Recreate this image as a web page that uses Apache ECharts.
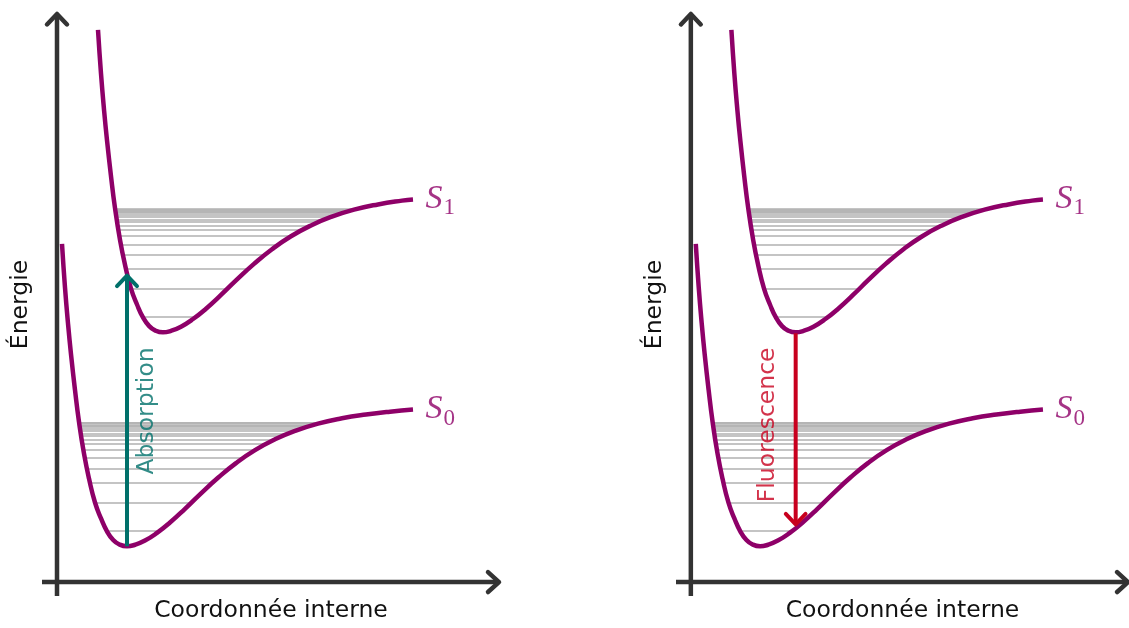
<!DOCTYPE html>
<html><head><meta charset="utf-8">
<script src="https://cdn.jsdelivr.net/npm/echarts@6/dist/echarts.min.js"></script>
<style>html,body{margin:0;padding:0;background:#fff}#c{width:1129px;height:628px}</style>
</head><body><div id="c"></div>
<script>
// ---- data (arbitrary units) ----
const s0Curve = [[5,340],[8,296],[11,260],[14,229],[18,193],[22,161],[27,129],[32,104],[38,80],[44,64],[50,51],[56,42.5],[62,38],[70,36],
  [78,37.5],[88,41.7],[100,49.4],[113,59.8],[128,73.6],[143,88.2],[161,104.8],[179,119.6],[198,132.6],[218,143.5],[238,152],[261,159.3],[285,164.6],[309,168.4],[333,171.3],[356,173.4]];
const s1Curve = [[41,555],[44,511],[47,475],[50,444],[54,408],[58,376],[63,344],[68,319],[74,295],[80,279],[86,266],[92,257.5],[98,253],[106,251],
  [114,252.5],[124,256.7],[136,264.4],[149,274.8],[164,288.6],[179,303.2],[197,319.8],[215,334.6],[234,347.6],[254,358.5],[274,367],[297,374.3],[321,379.6],[345,383.4],[356,384.6]];

const s0LevelY     = [51.5,79.5,99.5,114,124.5,133,139,143.5,147,149.5,152,154,155.8,157.3,158.6,159.7,160.6];
const s0LevelLeft  = [49.8,38.2,33.1,30,27.9,26.4,25.4,24.7,24.2,23.8,23.4,23.1,22.8,22.6,22.4,22.2,22.1];
const s0LevelRight = [102.6,134.1,155.3,172.3,186.2,198.7,209.7,218,226.2,232.1,238,244.3,250,254.7,258.8,262.8,266.9];

const s1LevelY     = [266.5,294.5,314.5,329,339.5,348,354,358.5,362,364.5,367,369,370.8,372.3,373.6,374.7,375.6];
const s1LevelLeft  = [85.8,74.2,69.1,66,63.9,62.4,61.4,60.7,60.2,59.8,59.4,59.1,58.8,58.6,58.4,58.2,58.1];
const s1LevelRight = [138.6,170.1,191.3,208.3,222.2,234.7,245.7,254,262.2,268.1,274,280.3,286,290.7,294.8,298.8,302.9];

const absorptionArrow   = [[70,36],[70,308]];
const fluorescenceArrow = [[106,250],[106,58]];
const absorptionText    = [90,172];
const fluorescenceText  = [78,158];

const stateNames = ['S','S'];
const stateSubs  = ['0','1'];
const axisTitles = {x:'Coordonnée interne', y:'Énergie'};
const transitionNames = ['Absorption','Fluorescence'];

// ---- style ----
const PURPLE = '#8e0068', TEAL = '#00706a', RED = '#c8001e', AXIS = '#333333', GRAY = '#b0b0b0';
const SANS = 'DejaVu Sans';
const xRange = [-15, 443], yRange = [-14, 572];

function chevron(tip, dx, dy, len, half) {
  return [[tip[0] - dx*len - dy*half, tip[1] - dy*len - dx*half], tip, [tip[0] - dx*len + dy*half, tip[1] - dy*len + dx*half]];
}

const grids = [], xAxes = [], yAxes = [], series = [];
const panelLeft = [42, 676];

panelLeft.forEach((left, g) => {
  grids.push({left: left, top: 13, width: 458, height: 586});
  xAxes.push({gridIndex: g, type: 'value', min: xRange[0], max: xRange[1], axisLine: {show: false}, axisTick: {show: false},
    axisLabel: {show: false}, splitLine: {show: false}, name: axisTitles.x, nameLocation: 'middle', nameGap: 3,
    nameTextStyle: {fontFamily: SANS, fontSize: 23.5, color: '#111', verticalAlign: 'top'}});
  yAxes.push({gridIndex: g, type: 'value', min: yRange[0], max: yRange[1], axisLine: {show: false}, axisTick: {show: false},
    axisLabel: {show: false}, splitLine: {show: false}, name: axisTitles.y, nameLocation: 'middle', nameGap: 9, nameRotate: 90,
    nameTextStyle: {fontFamily: SANS, fontSize: 23.5, color: '#111'}});

  const base = {xAxisIndex: g, yAxisIndex: g, silent: true, clip: false, animation: false};
  const axisStyle = {color: AXIS, width: 4.5, cap: 'butt'};
  series.push(Object.assign({type: 'line', data: [[0, yRange[0]], [0, yRange[1] - 1]], symbol: 'none', lineStyle: axisStyle, z: 6}, base));
  series.push(Object.assign({type: 'line', data: [[xRange[0], 0], [xRange[1] - 1, 0]], symbol: 'none', lineStyle: axisStyle, z: 6}, base));
  series.push(Object.assign({type: 'line', data: chevron([0, yRange[1] - 1], 0, 1, 10.5, 10), symbol: 'none',
    lineStyle: {color: AXIS, width: 4.5, cap: 'round', join: 'round'}, z: 6}, base));
  series.push(Object.assign({type: 'line', data: chevron([xRange[1] - 1, 0], 1, 0, 11, 10), symbol: 'none',
    lineStyle: {color: AXIS, width: 4.5, cap: 'round', join: 'round'}, z: 6}, base));

  [[s0LevelY, s0LevelLeft, s0LevelRight], [s1LevelY, s1LevelLeft, s1LevelRight]].forEach(([ys, ls, rs]) => {
    series.push(Object.assign({type: 'lines', coordinateSystem: 'cartesian2d', polyline: false,
      data: ys.map((y, i) => ({coords: [[ls[i], y], [rs[i], y]]})),
      lineStyle: {color: GRAY, width: 1.6, opacity: 1}, z: 1}, base));
  });

  [s0Curve, s1Curve].forEach(c => {
    series.push(Object.assign({type: 'line', data: c, symbol: 'none', smooth: 0.5,
      lineStyle: {color: PURPLE, width: 4.5, cap: 'butt', join: 'round'}, z: 3}, base));
  });

  [s0Curve, s1Curve].forEach((c, k) => {
    series.push(Object.assign({type: 'scatter', data: [c[c.length - 1]], symbolSize: 1, itemStyle: {color: 'rgba(0,0,0,0)'},
      label: {show: true, position: 'right', distance: 12, formatter: '{s|' + stateNames[k] + '}{sub|' + stateSubs[k] + '}',
        rich: {s: {fontFamily: 'Liberation Serif', fontStyle: 'italic', fontSize: 34, color: PURPLE},
               sub: {fontFamily: 'Liberation Serif', fontSize: 23, color: PURPLE, padding: [18, 0, 0, 1]}}}, z: 4}, base));
  });

  const arr = g === 0 ? absorptionArrow : fluorescenceArrow;
  const col = g === 0 ? TEAL : RED;
  const dir = arr[1][1] > arr[0][1] ? 1 : -1;
  series.push(Object.assign({type: 'line', data: arr, symbol: 'none', lineStyle: {color: col, width: 4, cap: 'butt'}, z: 5}, base));
  series.push(Object.assign({type: 'line', data: chevron(arr[1], 0, dir, 10.5, 10), symbol: 'none',
    lineStyle: {color: col, width: 4, cap: 'round', join: 'round'}, z: 5}, base));
  series.push(Object.assign({type: 'scatter', data: [g === 0 ? absorptionText : fluorescenceText], symbolSize: 1,
    itemStyle: {color: 'rgba(0,0,0,0)'},
    label: {show: true, position: 'inside', rotate: 90, formatter: transitionNames[g],
      fontFamily: SANS, fontSize: 23.5, color: col}, z: 5}, base));
});

const chart = echarts.init(document.getElementById('c'), null, {renderer: 'canvas'});
chart.setOption({animation: false, backgroundColor: '#ffffff', grid: grids, xAxis: xAxes, yAxis: yAxes, series: series});
</script></body></html>
